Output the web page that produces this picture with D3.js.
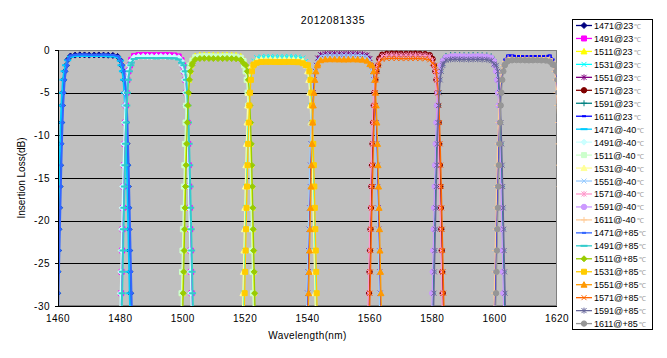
<!DOCTYPE html>
<html><head><meta charset="utf-8">
<script src="https://cdn.jsdelivr.net/npm/d3@7"></script>
<style>body{margin:0;background:#fff}text{font-family:Arial,"Liberation Sans",sans-serif}</style>
</head><body><svg id="c" width="667" height="358"></svg>
<script>
const chartTitle = "2012081335";
const xTicks = [1460,1480,1500,1520,1540,1560,1580,1600,1620];
const yTicks = [0,-5,-10,-15,-20,-25,-30];
const seriesNames = ["1471@23","1491@23","1511@23","1531@23","1551@23","1571@23","1591@23","1611@23",
  "1471@-40","1491@-40","1511@-40","1531@-40","1551@-40","1571@-40","1591@-40","1611@-40",
  "1471@+85","1491@+85","1511@+85","1531@+85","1551@+85","1571@+85","1591@+85","1611@+85"];
// loss levels (dB) at which the filter edges are sampled
const edgeLevels = [-31,-28.5,-26,-23.5,-21,-18.5,-16,-13.5,-11,-8.5,-6.5,-5,-3.5,-2.5,-1.8];
// wavelengths sampled over each channel's passband top
const topWavelengths = [
 [1463.1,1464.0,1465.5,1467.0,1468.5,1470.0,1471.6,1473.1,1474.6,1476.1,1477.6,1479.1,1480.0],
 [1483.5,1484.4,1485.8,1487.3,1488.7,1490.1,1491.6,1493.0,1494.4,1495.8,1497.3,1498.7,1499.6],
 [1503.1,1504.0,1505.5,1506.9,1508.4,1509.8,1511.3,1512.8,1514.2,1515.7,1517.1,1518.6,1519.5],
 [1522.8,1523.7,1525.2,1526.7,1528.1,1529.6,1531.1,1532.6,1534.1,1535.5,1537.0,1538.5,1539.4],
 [1543.3,1544.2,1545.7,1547.2,1548.7,1550.2,1551.7,1553.1,1554.6,1556.1,1557.6,1559.1,1560.0],
 [1563.0,1563.9,1565.4,1567.0,1568.5,1570.0,1571.6,1573.1,1574.6,1576.1,1577.7,1579.2,1580.1],
 [1583.5,1584.4,1585.9,1587.3,1588.8,1590.2,1591.7,1593.1,1594.6,1596.0,1597.5,1598.9,1599.8],
 [1603.4,1604.3,1605.6,1607.0,1608.3,1609.7,1611.0,1612.3,1613.7,1615.0,1616.4,1617.7,1618.6]];
// wavelength of the rising (left) edge at each edge level, per series
const leftEdges = [
 [1459.70,1459.85,1460.00,1460.15,1460.30,1460.45,1460.61,1460.77,1460.95,1461.15,1461.36,1461.58,1461.85,1462.20,1462.65],
 [1480.10,1480.25,1480.40,1480.55,1480.70,1480.85,1481.01,1481.17,1481.35,1481.55,1481.76,1481.98,1482.25,1482.60,1483.05],
 [1499.70,1499.85,1500.00,1500.15,1500.30,1500.45,1500.61,1500.77,1500.95,1501.15,1501.36,1501.58,1501.85,1502.20,1502.65],
 [1519.40,1519.55,1519.70,1519.85,1520.00,1520.15,1520.31,1520.47,1520.65,1520.85,1521.06,1521.28,1521.55,1521.90,1522.35],
 [1539.90,1540.05,1540.20,1540.35,1540.50,1540.65,1540.81,1540.97,1541.15,1541.35,1541.56,1541.78,1542.05,1542.40,1542.85],
 [1559.60,1559.75,1559.90,1560.05,1560.20,1560.35,1560.51,1560.67,1560.85,1561.05,1561.26,1561.48,1561.75,1562.10,1562.55],
 [1580.10,1580.25,1580.40,1580.55,1580.70,1580.85,1581.01,1581.17,1581.35,1581.55,1581.76,1581.98,1582.25,1582.60,1583.05],
 [1600.00,1600.15,1600.30,1600.45,1600.60,1600.75,1600.91,1601.07,1601.25,1601.45,1601.66,1601.88,1602.15,1602.50,1602.95],
 [1459.45,1459.60,1459.75,1459.90,1460.05,1460.20,1460.36,1460.52,1460.70,1460.90,1461.11,1461.33,1461.60,1461.95,1462.40],
 [1479.85,1480.00,1480.15,1480.30,1480.45,1480.60,1480.76,1480.92,1481.10,1481.30,1481.51,1481.73,1482.00,1482.35,1482.80],
 [1499.45,1499.60,1499.75,1499.90,1500.05,1500.20,1500.36,1500.52,1500.70,1500.90,1501.11,1501.33,1501.60,1501.95,1502.40],
 [1519.15,1519.30,1519.45,1519.60,1519.75,1519.90,1520.06,1520.22,1520.40,1520.60,1520.81,1521.03,1521.30,1521.65,1522.10],
 [1539.65,1539.80,1539.95,1540.10,1540.25,1540.40,1540.56,1540.72,1540.90,1541.10,1541.31,1541.53,1541.80,1542.15,1542.60],
 [1559.35,1559.50,1559.65,1559.80,1559.95,1560.10,1560.26,1560.42,1560.60,1560.80,1561.01,1561.23,1561.50,1561.85,1562.30],
 [1579.85,1580.00,1580.15,1580.30,1580.45,1580.60,1580.76,1580.92,1581.10,1581.30,1581.51,1581.73,1582.00,1582.35,1582.80],
 [1599.75,1599.90,1600.05,1600.20,1600.35,1600.50,1600.66,1600.82,1601.00,1601.20,1601.41,1601.63,1601.90,1602.25,1602.70],
 [1460.00,1460.15,1460.30,1460.45,1460.60,1460.75,1460.91,1461.07,1461.25,1461.45,1461.66,1461.88,1462.15,1462.50,1462.95],
 [1480.40,1480.55,1480.70,1480.85,1481.00,1481.15,1481.31,1481.47,1481.65,1481.85,1482.06,1482.28,1482.55,1482.90,1483.35],
 [1500.00,1500.15,1500.30,1500.45,1500.60,1500.75,1500.91,1501.07,1501.25,1501.45,1501.66,1501.88,1502.15,1502.50,1502.95],
 [1519.70,1519.85,1520.00,1520.15,1520.30,1520.45,1520.61,1520.77,1520.95,1521.15,1521.36,1521.58,1521.85,1522.20,1522.65],
 [1540.20,1540.35,1540.50,1540.65,1540.80,1540.95,1541.11,1541.27,1541.45,1541.65,1541.86,1542.08,1542.35,1542.70,1543.15],
 [1559.90,1560.05,1560.20,1560.35,1560.50,1560.65,1560.81,1560.97,1561.15,1561.35,1561.56,1561.78,1562.05,1562.40,1562.85],
 [1580.40,1580.55,1580.70,1580.85,1581.00,1581.15,1581.31,1581.47,1581.65,1581.85,1582.06,1582.28,1582.55,1582.90,1583.35],
 [1600.30,1600.45,1600.60,1600.75,1600.90,1601.05,1601.21,1601.37,1601.55,1601.75,1601.96,1602.18,1602.45,1602.80,1603.25]];
// wavelength of the falling (right) edge at each edge level, per series
const rightEdges = [
 [1483.40,1483.25,1483.10,1482.95,1482.80,1482.65,1482.49,1482.33,1482.15,1481.95,1481.74,1481.52,1481.25,1480.90,1480.45],
 [1503.00,1502.85,1502.70,1502.55,1502.40,1502.25,1502.09,1501.93,1501.75,1501.55,1501.34,1501.12,1500.85,1500.50,1500.05],
 [1522.90,1522.75,1522.60,1522.45,1522.30,1522.15,1521.99,1521.83,1521.65,1521.45,1521.24,1521.02,1520.75,1520.40,1519.95],
 [1542.80,1542.65,1542.50,1542.35,1542.20,1542.05,1541.89,1541.73,1541.55,1541.35,1541.14,1540.92,1540.65,1540.30,1539.85],
 [1563.40,1563.25,1563.10,1562.95,1562.80,1562.65,1562.49,1562.33,1562.15,1561.95,1561.74,1561.52,1561.25,1560.90,1560.45],
 [1583.50,1583.35,1583.20,1583.05,1582.90,1582.75,1582.59,1582.43,1582.25,1582.05,1581.84,1581.62,1581.35,1581.00,1580.55],
 [1603.20,1603.05,1602.90,1602.75,1602.60,1602.45,1602.29,1602.13,1601.95,1601.75,1601.54,1601.32,1601.05,1600.70,1600.25],
 [1622.00,1621.85,1621.70,1621.55,1621.40,1621.25,1621.09,1620.93,1620.75,1620.55,1620.34,1620.12,1619.85,1619.50,1619.05],
 [1483.15,1483.00,1482.85,1482.70,1482.55,1482.40,1482.24,1482.08,1481.90,1481.70,1481.49,1481.27,1481.00,1480.65,1480.20],
 [1502.75,1502.60,1502.45,1502.30,1502.15,1502.00,1501.84,1501.68,1501.50,1501.30,1501.09,1500.87,1500.60,1500.25,1499.80],
 [1522.65,1522.50,1522.35,1522.20,1522.05,1521.90,1521.74,1521.58,1521.40,1521.20,1520.99,1520.77,1520.50,1520.15,1519.70],
 [1542.55,1542.40,1542.25,1542.10,1541.95,1541.80,1541.64,1541.48,1541.30,1541.10,1540.89,1540.67,1540.40,1540.05,1539.60],
 [1563.15,1563.00,1562.85,1562.70,1562.55,1562.40,1562.24,1562.08,1561.90,1561.70,1561.49,1561.27,1561.00,1560.65,1560.20],
 [1583.25,1583.10,1582.95,1582.80,1582.65,1582.50,1582.34,1582.18,1582.00,1581.80,1581.59,1581.37,1581.10,1580.75,1580.30],
 [1602.95,1602.80,1602.65,1602.50,1602.35,1602.20,1602.04,1601.88,1601.70,1601.50,1601.29,1601.07,1600.80,1600.45,1600.00],
 [1621.75,1621.60,1621.45,1621.30,1621.15,1621.00,1620.84,1620.68,1620.50,1620.30,1620.09,1619.87,1619.60,1619.25,1618.80],
 [1483.70,1483.55,1483.40,1483.25,1483.10,1482.95,1482.79,1482.63,1482.45,1482.25,1482.04,1481.82,1481.55,1481.20,1480.75],
 [1503.30,1503.15,1503.00,1502.85,1502.70,1502.55,1502.39,1502.23,1502.05,1501.85,1501.64,1501.42,1501.15,1500.80,1500.35],
 [1523.20,1523.05,1522.90,1522.75,1522.60,1522.45,1522.29,1522.13,1521.95,1521.75,1521.54,1521.32,1521.05,1520.70,1520.25],
 [1543.10,1542.95,1542.80,1542.65,1542.50,1542.35,1542.19,1542.03,1541.85,1541.65,1541.44,1541.22,1540.95,1540.60,1540.15],
 [1563.70,1563.55,1563.40,1563.25,1563.10,1562.95,1562.79,1562.63,1562.45,1562.25,1562.04,1561.82,1561.55,1561.20,1560.75],
 [1583.80,1583.65,1583.50,1583.35,1583.20,1583.05,1582.89,1582.73,1582.55,1582.35,1582.14,1581.92,1581.65,1581.30,1580.85],
 [1603.50,1603.35,1603.20,1603.05,1602.90,1602.75,1602.59,1602.43,1602.25,1602.05,1601.84,1601.62,1601.35,1601.00,1600.55],
 [1622.30,1622.15,1622.00,1621.85,1621.70,1621.55,1621.39,1621.23,1621.05,1620.85,1620.64,1620.42,1620.15,1619.80,1619.35]];
// loss (dB) over the passband top, per series, at that channel's topWavelengths
const topLosses = [
 [-1.15,-0.7,-0.6,-0.57,-0.58,-0.6,-0.59,-0.58,-0.6,-0.61,-0.63,-0.75,-1.2],
 [-1.15,-0.7,-0.6,-0.58,-0.59,-0.6,-0.61,-0.6,-0.59,-0.61,-0.63,-0.75,-1.2],
 [-1.1,-0.7,-0.6,-0.58,-0.59,-0.6,-0.61,-0.6,-0.59,-0.61,-0.63,-0.75,-1.15],
 [-1.3,-0.9,-0.8,-0.78,-0.79,-0.8,-0.81,-0.8,-0.79,-0.81,-0.83,-0.95,-1.35],
 [-0.95,-0.55,-0.45,-0.43,-0.44,-0.45,-0.46,-0.45,-0.44,-0.46,-0.48,-0.6,-1.0],
 [-1.0,-0.55,-0.45,-0.43,-0.44,-0.45,-0.46,-0.45,-0.44,-0.46,-0.48,-0.6,-1.05],
 [-1.1,-0.7,-0.6,-0.59,-0.6,-0.61,-0.6,-0.59,-0.6,-0.62,-0.64,-0.75,-1.15],
 [-1.1,-0.65,-0.65,-0.7,-0.71,-0.72,-0.71,-0.7,-0.71,-0.72,-0.7,-0.65,-1.1],
 [-1.2,-0.8,-0.7,-0.68,-0.69,-0.7,-0.71,-0.7,-0.69,-0.72,-0.74,-0.85,-1.25],
 [-1.25,-0.85,-0.75,-0.74,-0.75,-0.76,-0.75,-0.74,-0.75,-0.77,-0.79,-0.9,-1.3],
 [-1.25,-0.85,-0.75,-0.73,-0.74,-0.75,-0.76,-0.75,-0.74,-0.76,-0.78,-0.9,-1.3],
 [-1.6,-1.2,-1.1,-1.08,-1.09,-1.1,-1.11,-1.1,-1.09,-1.11,-1.13,-1.25,-1.65],
 [-1.15,-0.7,-0.6,-0.59,-0.6,-0.61,-0.6,-0.59,-0.6,-0.62,-0.64,-0.75,-1.2],
 [-1.15,-0.7,-0.6,-0.58,-0.6,-0.61,-0.6,-0.59,-0.6,-0.61,-0.63,-0.75,-1.2],
 [-1.25,-0.85,-0.75,-0.73,-0.74,-0.75,-0.76,-0.75,-0.74,-0.76,-0.78,-0.9,-1.3],
 [-1.35,-0.95,-0.9,-0.89,-0.9,-0.91,-0.9,-0.89,-0.9,-0.91,-0.92,-1.0,-1.4],
 [-1.1,-0.65,-0.55,-0.53,-0.54,-0.55,-0.56,-0.55,-0.54,-0.56,-0.58,-0.7,-1.1],
 [-1.5,-1.05,-0.95,-0.93,-0.94,-0.95,-0.96,-0.95,-0.94,-0.96,-0.98,-1.1,-1.5],
 [-1.55,-1.1,-1.0,-0.98,-0.99,-1.0,-1.01,-1.0,-0.99,-1.01,-1.03,-1.15,-1.55],
 [-1.7,-1.5,-1.4,-1.38,-1.39,-1.4,-1.41,-1.4,-1.39,-1.41,-1.43,-1.55,-1.75],
 [-1.6,-1.2,-1.1,-1.08,-1.09,-1.1,-1.11,-1.1,-1.09,-1.11,-1.13,-1.25,-1.65],
 [-1.5,-1.1,-1.0,-0.98,-0.99,-1.0,-1.01,-1.0,-0.99,-1.01,-1.03,-1.15,-1.55],
 [-1.6,-1.2,-1.1,-1.08,-1.09,-1.1,-1.11,-1.1,-1.09,-1.11,-1.13,-1.25,-1.65],
 [-1.65,-1.3,-1.2,-1.18,-1.19,-1.2,-1.21,-1.2,-1.19,-1.21,-1.23,-1.35,-1.7]];

// styles
const colors = ["#000080","#FF00FF","#FFFF00","#00FFFF","#800080","#800000","#008080","#0000FF",
  "#00CCFF","#CCFFFF","#CCFFCC","#FFFF99","#99CCFF","#FF99CC","#CC99FF","#FFCC99",
  "#3366FF","#33CCCC","#99CC00","#FFCC00","#FF9900","#FF6600","#666699","#969696"];
const markerCycle = ["diamond","square","triangle","x","star","circle","plus","sdash","ldash"];

const W = 667, H = 358;
const P = {l:58, r:557, t:50, b:306};
const svg = d3.select("#c");
const x = d3.scaleLinear().domain([1460,1620]).range([P.l,P.r]);
const y = d3.scaleLinear().domain([-30,0]).range([P.b,P.t]);

svg.append("rect").attr("width",W).attr("height",H).attr("fill","#fff");
svg.append("rect").attr("x",P.l).attr("y",P.t).attr("width",P.r-P.l).attr("height",P.b-P.t).attr("fill","#C0C0C0");
svg.append("defs").append("clipPath").attr("id","pc").append("rect")
  .attr("x",P.l).attr("y",P.t).attr("width",P.r-P.l).attr("height",P.b-P.t+0.5);

// grid
svg.append("g").selectAll("line").data(yTicks.filter(v=>v>-30&&v<0)).join("line")
  .attr("x1",P.l).attr("x2",P.r).attr("y1",d=>Math.round(y(d))+0.5).attr("y2",d=>Math.round(y(d))+0.5)
  .attr("stroke","#000").attr("stroke-width",1);
svg.append("rect").attr("x",P.l+0.5).attr("y",P.t+0.5).attr("width",P.r-P.l-1).attr("height",P.b-P.t-1)
  .attr("fill","none").attr("stroke","#808080");

function markerPath(t){
  switch(t){
    case "diamond": return "M0,-3L3,0L0,3L-3,0Z";
    case "square": return "M-2.5,-2.5h5v5h-5Z";
    case "triangle": return "M0,-3L3,2.5L-3,2.5Z";
    case "x": return "M-2.5,-2.5L2.5,2.5M-2.5,2.5L2.5,-2.5";
    case "star": return "M-2.5,-2.5L2.5,2.5M-2.5,2.5L2.5,-2.5M0,-3V3";
    case "circle": return "M2.7,0A2.7,2.7 0 1 1 -2.7,0A2.7,2.7 0 1 1 2.7,0Z";
    case "plus": return "M-3,0H3M0,-3V3";
    case "sdash": return "M-2,0H2";
    case "ldash": return "M-3.5,0H3.5";
  }
}
const filled = t => ["diamond","square","triangle","circle"].includes(t);

const series = seriesNames.map((name,i)=>{
  const ch = i % 8;
  const pts = leftEdges[i].map((v,k)=>[v,edgeLevels[k]])
    .concat(topWavelengths[ch].map((v,k)=>[v,topLosses[i][k]]))
    .concat(rightEdges[i].map((v,k)=>[v,edgeLevels[k]]).reverse());
  return {name, pts, color:colors[i], marker:markerCycle[i%9]};
});

const line = d3.line().x(d=>x(d[0])).y(d=>y(d[1]));
const plot = svg.append("g").attr("clip-path","url(#pc)");
series.forEach(s=>{
  const g = plot.append("g");
  const lw = (s.marker==="sdash"||s.marker==="ldash") ? 2 : 1.3;
  g.append("path").attr("d",line(s.pts)).attr("fill","none").attr("stroke",s.color).attr("stroke-width",lw);
  g.selectAll("path.m").data(s.pts).join("path").attr("class","m")
    .attr("transform",d=>`translate(${x(d[0])},${y(d[1])})`)
    .attr("d",markerPath(s.marker))
    .attr("fill",filled(s.marker)?s.color:"none")
    .attr("stroke",s.color).attr("stroke-width",(s.marker==="sdash"||s.marker==="ldash")?2:1);
});

// axes
svg.append("line").attr("x1",P.l+0.5).attr("x2",P.l+0.5).attr("y1",P.t).attr("y2",P.b+1).attr("stroke","#000");
svg.append("line").attr("x1",P.l).attr("x2",P.r).attr("y1",P.b+0.5).attr("y2",P.b+0.5).attr("stroke","#000");
svg.append("g").selectAll("line").data(yTicks).join("line")
  .attr("x1",P.l-3).attr("x2",P.l).attr("y1",d=>Math.round(y(d))+0.5).attr("y2",d=>Math.round(y(d))+0.5).attr("stroke","#000");
svg.append("g").selectAll("text").data(yTicks).join("text")
  .attr("x",P.l-8).attr("y",d=>y(d)).attr("dy","0.35em").attr("text-anchor","end")
  .attr("font-size",10).attr("letter-spacing",0.5).text(d=>d);
svg.append("g").selectAll("text").data(xTicks).join("text")
  .attr("x",d=>x(d)).attr("y",P.b+16).attr("text-anchor","middle")
  .attr("font-size",10).attr("letter-spacing",0.5).text(d=>d);

svg.append("text").attr("x",(P.l+P.r)/2).attr("y",339).attr("text-anchor","middle")
  .attr("font-size",10).attr("letter-spacing",0.4).text("Wavelength(nm)");
svg.append("text").attr("transform",`translate(25,${(P.t+P.b)/2}) rotate(-90)`).attr("text-anchor","middle")
  .attr("font-size",10).text("Insertion Loss(dB)");
svg.append("text").attr("x",333).attr("y",24).attr("text-anchor","middle")
  .attr("font-size",10.5).attr("letter-spacing",0.6).text(chartTitle);

// legend
const L = {x:572, y:19, w:80, h:310};
svg.append("rect").attr("x",L.x+0.5).attr("y",L.y+0.5).attr("width",L.w).attr("height",L.h)
  .attr("fill","#fff").attr("stroke","#000");
series.forEach((s,i)=>{
  const cy = 25.5 + i*12.96;
  const g = svg.append("g");
  g.append("line").attr("x1",576).attr("x2",592).attr("y1",cy).attr("y2",cy).attr("stroke",s.color).attr("stroke-width",1.3);
  g.append("path").attr("transform",`translate(584,${cy})`).attr("d",markerPath(s.marker))
    .attr("fill",filled(s.marker)?s.color:"none").attr("stroke",s.color)
    .attr("stroke-width",(s.marker==="sdash"||s.marker==="ldash")?2:1);
  const t = g.append("text").attr("x",594).attr("y",cy+3.5).attr("font-size",9);
  t.append("tspan").attr("fill","#000").text(s.name);
  t.append("tspan").attr("fill","#999").attr("font-size",7).attr("dx",1).text("℃");
});
</script></body></html>
